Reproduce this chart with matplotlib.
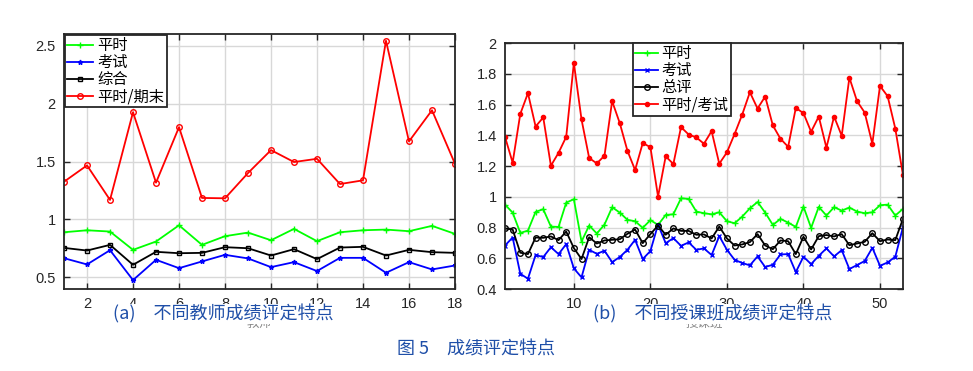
import matplotlib
matplotlib.use('Agg')
import matplotlib.pyplot as plt
import numpy as np

plt.rcParams['font.family'] = ['Liberation Sans', 'Noto Sans CJK SC', 'DejaVu Sans']

# (a) per teacher
teachers = np.arange(1, 19)
a_usual = [0.890, 0.907, 0.896, 0.738, 0.810, 0.950, 0.781, 0.856, 0.887, 0.821,
           0.919, 0.813, 0.890, 0.907, 0.913, 0.899, 0.945, 0.876]
a_exam = [0.666, 0.612, 0.735, 0.477, 0.652, 0.580, 0.638, 0.695, 0.664, 0.589,
          0.632, 0.555, 0.669, 0.669, 0.540, 0.632, 0.569, 0.603]
a_total = [0.755, 0.732, 0.781, 0.609, 0.721, 0.709, 0.712, 0.761, 0.752, 0.689,
           0.744, 0.658, 0.758, 0.764, 0.689, 0.738, 0.718, 0.712]
a_ratio = [1.326, 1.467, 1.169, 1.926, 1.318, 1.797, 1.186, 1.183, 1.401, 1.599,
           1.496, 1.524, 1.306, 1.338, 2.543, 1.674, 1.943, 1.481]

# (b) per class
classes = np.arange(1, 54)
b_usual = [0.949, 0.897, 0.765, 0.780, 0.902, 0.919, 0.806, 0.804, 0.962, 0.984,
           0.709, 0.813, 0.761, 0.819, 0.932, 0.897, 0.850, 0.841, 0.798, 0.848,
           0.817, 0.882, 0.886, 0.990, 0.986, 0.904, 0.893, 0.886, 0.899, 0.841,
           0.828, 0.871, 0.925, 0.966, 0.897, 0.817, 0.856, 0.832, 0.804, 0.936,
           0.798, 0.934, 0.878, 0.932, 0.910, 0.930, 0.904, 0.893, 0.899, 0.945,
           0.949, 0.878, 0.921]
b_exam = [0.683, 0.735, 0.499, 0.467, 0.621, 0.608, 0.672, 0.627, 0.692, 0.534,
          0.476, 0.655, 0.629, 0.649, 0.575, 0.608, 0.655, 0.720, 0.595, 0.647,
          0.819, 0.698, 0.731, 0.681, 0.703, 0.655, 0.664, 0.621, 0.744, 0.655,
          0.590, 0.569, 0.554, 0.612, 0.543, 0.558, 0.625, 0.627, 0.510, 0.610,
          0.562, 0.616, 0.664, 0.612, 0.653, 0.530, 0.556, 0.582, 0.668, 0.551,
          0.573, 0.610, 0.802]
b_total = [0.794, 0.787, 0.636, 0.627, 0.735, 0.733, 0.742, 0.718, 0.774, 0.666,
           0.595, 0.737, 0.696, 0.716, 0.720, 0.724, 0.759, 0.787, 0.698, 0.757,
           0.813, 0.753, 0.794, 0.778, 0.778, 0.753, 0.755, 0.729, 0.806, 0.729,
           0.683, 0.690, 0.705, 0.757, 0.683, 0.659, 0.716, 0.711, 0.627, 0.740,
           0.657, 0.744, 0.751, 0.742, 0.757, 0.685, 0.696, 0.707, 0.763, 0.711,
           0.722, 0.718, 0.856]
b_ratio = [1.390, 1.222, 1.539, 1.674, 1.457, 1.516, 1.202, 1.286, 1.390, 1.870,
           1.503, 1.252, 1.217, 1.267, 1.622, 1.479, 1.299, 1.174, 1.349, 1.323,
           1.001, 1.263, 1.213, 1.453, 1.405, 1.386, 1.345, 1.427, 1.215, 1.289,
           1.408, 1.535, 1.680, 1.574, 1.652, 1.464, 1.377, 1.325, 1.578, 1.544,
           1.423, 1.522, 1.319, 1.522, 1.397, 1.775, 1.622, 1.548, 1.345, 1.721,
           1.654, 1.444, 1.142]

cap_color = '#1f4fa8'
cjk = ['Noto Sans CJK SC', 'DejaVu Sans']

fig = plt.figure(figsize=(9.73, 3.71), dpi=100)
ax1 = fig.add_axes([0.0658, 0.221, 0.4018, 0.687])
ax2 = fig.add_axes([0.519, 0.221, 0.409, 0.663])


def style_axes(ax):
    ax.grid(True, color='#d8d8d8', linewidth=1.0)
    ax.set_axisbelow(True)
    ax.tick_params(direction='in', top=True, right=True, labelsize=10.5,
                   length=4, width=1, colors='#262626', pad=6)
    for s in ax.spines.values():
        s.set_color('#262626')
        s.set_linewidth(1.3)


def style_legend(leg):
    leg.get_frame().set_linewidth(1.3)


# panel (a)
ax1.plot(teachers, a_usual, color='#00ff00', marker='+', ms=4, lw=1.3, label='平时')
ax1.plot(teachers, a_exam, color='#0000ff', marker='*', ms=3.5, lw=1.3, label='考试')
ax1.plot(teachers, a_total, color='black', marker='s', ms=3.5, mfc='none', lw=1.3, label='综合')
ax1.plot(teachers, a_ratio, color='#ff0000', marker='o', ms=4, mfc='none', lw=1.3, label='平时/期末')
ax1.set_xlim(1, 18)
ax1.set_ylim(0.4, 2.6)
ax1.set_xticks(np.arange(2, 19, 2))
ax1.set_yticks([0.5, 1, 1.5, 2, 2.5])
ax1.set_yticklabels(['0.5', '1', '1.5', '2', '2.5'])
style_axes(ax1)
leg1 = ax1.legend(loc='upper left', prop={'family': cjk, 'size': 11}, fancybox=False,
                  edgecolor='#262626', framealpha=1, borderaxespad=0.05,
                  handlelength=1.7, handletextpad=0.3, labelspacing=0.0, borderpad=0.15)
style_legend(leg1)

# panel (b)
ax2.plot(classes, b_usual, color='#00ff00', marker='+', ms=4, lw=1.3, label='平时')
ax2.plot(classes, b_exam, color='#0000ff', marker='x', ms=2.5, lw=1.3, label='考试')
ax2.plot(classes, b_total, color='black', marker='o', ms=4, mfc='none', lw=1.3, label='总评')
ax2.plot(classes, b_ratio, color='#ff0000', marker='.', ms=6, lw=1.3, label='平时/考试')
ax2.set_xlim(1, 53)
ax2.set_ylim(0.4, 2.0)
ax2.set_xticks(np.arange(10, 51, 10))
ax2.set_yticks(np.arange(0.4, 2.01, 0.2))
ax2.set_yticklabels(['0.4', '0.6', '0.8', '1', '1.2', '1.4', '1.6', '1.8', '2'])
style_axes(ax2)
leg2 = ax2.legend(loc='upper left', bbox_to_anchor=(0.322, 1.0),
                  prop={'family': cjk, 'size': 11}, fancybox=False,
                  edgecolor='#262626', framealpha=1, borderaxespad=0.0,
                  handlelength=1.5, handletextpad=0.2, labelspacing=0.0, borderpad=0.15)
style_legend(leg2)

# axis labels (mostly hidden under the captions, as in the source figure)
fig.text(259 / 973, 1 - 323 / 371, '教师', family=cjk, fontsize=9, color='#888888',
         ha='center', va='center')
fig.text(704 / 973, 1 - 323 / 371, '授课班', family=cjk, fontsize=9, color='#888888',
         ha='center', va='center')

# captions
box = dict(facecolor='white', edgecolor='none', pad=0.5)
fig.text(113 / 973, 1 - 314 / 371, '(a)\u3000不同教师成绩评定特点', family=cjk,
         fontsize=13, color=cap_color, ha='left', va='center', bbox=box)
fig.text(593 / 973, 1 - 314 / 371, '(b)\u3000不同授课班成绩评定特点', family=cjk,
         fontsize=13, color=cap_color, ha='left', va='center', bbox=box)
fig.text(476 / 973, 1 - 350 / 371, '图 5\u3000成绩评定特点', family=cjk,
         fontsize=13, color=cap_color, ha='center', va='center')

fig.savefig('out.png', dpi=100)
